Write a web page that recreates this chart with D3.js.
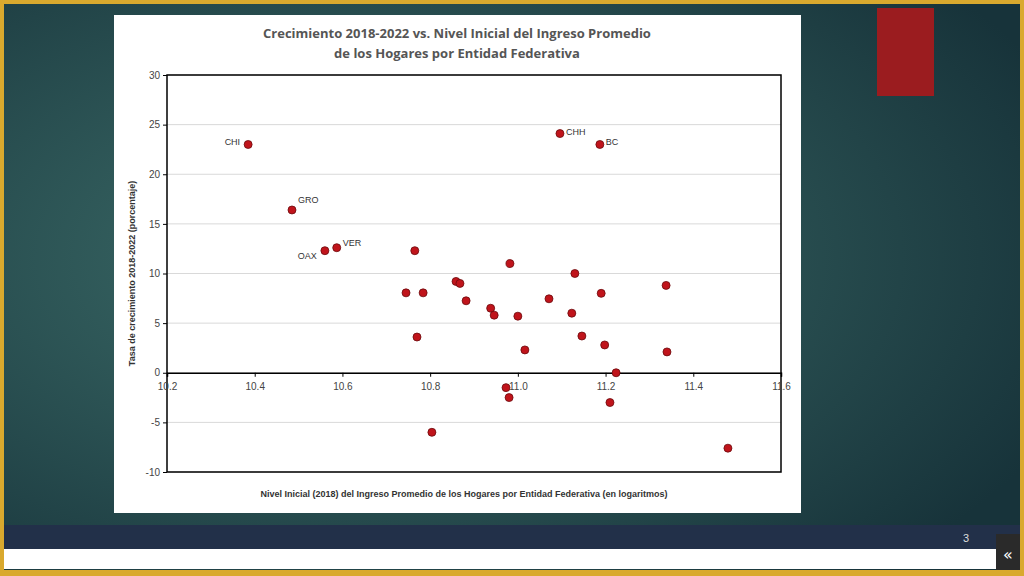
<!DOCTYPE html>
<html><head><meta charset="utf-8">
<script src="https://cdn.jsdelivr.net/npm/d3@7"></script>
<style>body{margin:0;overflow:hidden}</style>
</head><body>
<svg id="c" width="1024" height="576"></svg>
<script>
// data
var xVals = [10.385,10.485,10.56,10.587,10.745,10.77,10.765,10.784,10.804,10.859,10.868,10.882,10.938,10.946,10.973,10.98,10.982,11.0,11.016,11.071,11.096,11.123,11.13,11.146,11.187,11.19,11.198,11.21,11.224,11.338,11.34,11.479];
var yVals = [23.0,16.4,12.3,12.6,8.05,3.6,12.3,8.05,-6.0,9.2,9.0,7.25,6.5,5.8,-1.5,-2.5,11.0,5.7,2.3,7.45,24.1,6.0,10.0,3.7,23.0,8.0,2.8,-3.0,0,8.8,2.1,-7.6];
var labels = {0:"CHI",1:"GRO",2:"OAX",3:"VER",20:"CHH",24:"BC"};
var xTicks = [10.2,10.4,10.6,10.8,11.0,11.2,11.4,11.6];
var yTicks = [-10,-5,0,5,10,15,20,25,30];

var svg = d3.select("#c");
var defs = svg.append("defs");
var g = defs.append("radialGradient").attr("id","bg").attr("cx","35%").attr("cy","45%").attr("r","75%");
g.append("stop").attr("offset","0%").attr("stop-color","#3d6e6a");
g.append("stop").attr("offset","100%").attr("stop-color","#17333a");
svg.append("rect").attr("width",1024).attr("height",576).attr("fill","#d9a92e");
svg.append("rect").attr("x",4).attr("y",4).attr("width",1016).attr("height",566).attr("fill","url(#bg)");
svg.append("rect").attr("x",4).attr("y",525).attr("width",1016).attr("height",24).attr("fill","#223049");
svg.append("rect").attr("x",4).attr("y",549).attr("width",1016).attr("height",20).attr("fill","#ffffff");
svg.append("rect").attr("x",877).attr("y",8).attr("width",57).attr("height",88).attr("fill","#9b1c1f");
svg.append("text").attr("x",963).attr("y",542).attr("font-family","Liberation Sans").attr("font-size",11).attr("fill","#ddd").text("3");
svg.append("rect").attr("x",996).attr("y",534).attr("width",24).attr("height",36).attr("fill","#2a2a2a");
svg.append("text").attr("x",1008).attr("y",560).attr("text-anchor","middle").attr("font-family","DejaVu Sans").attr("font-size",16).attr("fill","#fff").text("«");

svg.append("rect").attr("x",114).attr("y",15).attr("width",687).attr("height",498).attr("fill","#fff");

var title = svg.append("text").attr("text-anchor","middle").attr("font-family","Open Sans").attr("font-weight","bold").attr("font-size",13).attr("fill","#555");
title.append("tspan").attr("x",457).attr("y",38).text("Crecimiento 2018-2022 vs. Nivel Inicial del Ingreso Promedio");
title.append("tspan").attr("x",457).attr("y",58).text("de los Hogares por Entidad Federativa");

var pLeft = 167, pRight = 781, pTop = 75, pBottom = 472;
var x = d3.scaleLinear().domain([10.2,11.6]).range([pLeft,pRight]);
var y = d3.scaleLinear().domain([-10,30]).range([pBottom,pTop]);

svg.append("g").selectAll("line").data(yTicks).enter().append("line")
  .attr("x1",pLeft).attr("x2",pRight).attr("y1",d=>y(d)).attr("y2",d=>y(d))
  .attr("stroke","#d9d9d9");
svg.append("rect").attr("x",pLeft).attr("y",pTop).attr("width",pRight-pLeft).attr("height",pBottom-pTop)
  .attr("fill","none").attr("stroke","#000").attr("stroke-width",1.5);

var yAxis = svg.append("g").attr("transform",`translate(${pLeft},0)`)
  .call(d3.axisLeft(y).tickValues(yTicks).tickSize(4).tickFormat(d => String(d)));
var xAxis = svg.append("g").attr("transform",`translate(0,${y(0)})`)
  .call(d3.axisBottom(x).tickValues(xTicks).tickFormat(d3.format(".1f")).tickSize(4).tickPadding(6));
[xAxis,yAxis].forEach(a=>{
  a.selectAll("text").attr("font-family","Liberation Sans").attr("font-size",10).attr("fill","#444");
  a.selectAll("line,path").attr("stroke","#000");
});
xAxis.select("path").attr("stroke-width",1.5);
yAxis.select("path").remove();

svg.append("g").selectAll("circle").data(xVals).enter().append("circle")
  .attr("cx",d=>x(d)).attr("cy",(d,i)=>y(yVals[i])).attr("r",4)
  .attr("fill","#c0141b").attr("stroke","#6b0a0d").attr("stroke-width",0.8);

svg.append("g").selectAll("text").data(Object.keys(labels)).enter().append("text")
  .attr("x",i=>{var px=x(xVals[i]); return (i==0||i==2)? px-8 : px+6;})
  .attr("y",(i)=>y(yVals[i])-(i==3?2:(i==1?7:(i==2?-8:-1))))
  .attr("text-anchor",i=>(i==0||i==2)?"end":"start")
  .attr("font-family","Liberation Sans").attr("font-size",9).attr("fill","#333")
  .text(i=>labels[i]);

svg.append("text").attr("transform",`translate(135,${(pTop+pBottom)/2}) rotate(-90)`)
  .attr("text-anchor","middle").attr("font-family","Liberation Sans").attr("font-weight","bold")
  .attr("font-size",9).attr("fill","#333").text("Tasa de crecimiento 2018-2022 (porcentaje)");
svg.append("text").attr("x",(pLeft+pRight)/2-10).attr("y",497)
  .attr("text-anchor","middle").attr("font-family","Liberation Sans").attr("font-weight","bold")
  .attr("font-size",9).attr("fill","#333").text("Nivel Inicial (2018) del Ingreso Promedio de los Hogares por Entidad Federativa (en logaritmos)");
</script>
</body></html>
